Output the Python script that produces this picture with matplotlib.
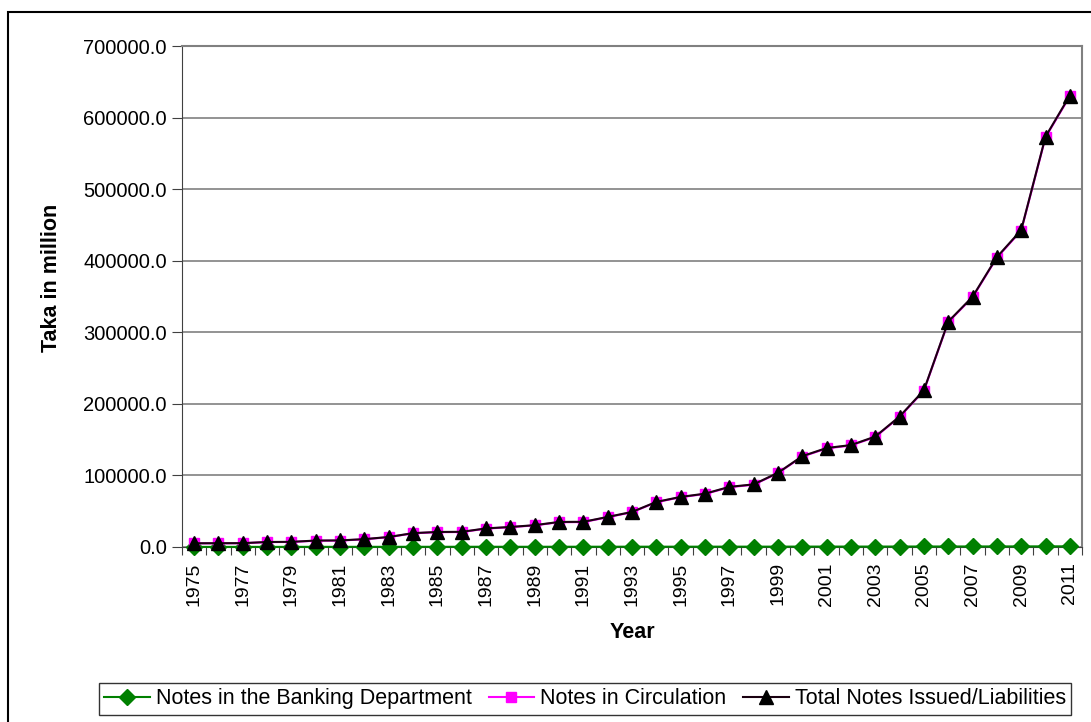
import numpy as np
import matplotlib.pyplot as plt
from matplotlib.patches import Rectangle
from matplotlib.ticker import FormatStrFormatter

plt.rcParams['font.family'] = ['Liberation Sans', 'DejaVu Sans']

years = list(range(1975, 2012))

# Total notes issued / liabilities (Taka in million)
total_notes = [5200, 5300, 5400, 7000, 7200, 9000, 9200, 11000, 14000, 19400,
               21000, 21200, 26000, 28000, 30500, 35000, 35200, 42000, 49000, 63000,
               70000, 74500, 84000, 87500, 103700, 126900, 138300, 142400, 154300, 182300,
               219000, 314900, 349600, 405000, 442800, 573300, 630800]

# Notes held in the Banking Department (very small, near zero)
banking_dept = [120, 150, 180, 160, 200, 220, 250, 240, 260, 300,
                280, 320, 350, 300, 330, 360, 380, 400, 420, 450,
                430, 470, 500, 480, 520, 560, 600, 580, 620, 650,
                700, 720, 760, 800, 850, 900, 950]

circulation = [t - b for t, b in zip(total_notes, banking_dept)]

W, H = 1091, 722
fig = plt.figure(figsize=(W / 100, H / 100), dpi=100)
ax = fig.add_axes([182 / W, 1 - 547 / H, (1082 - 182) / W, (547 - 46) / H])

x = np.arange(len(years))
l1, = ax.plot(x, banking_dept, color='#008000', marker='D', markersize=8,
              markerfacecolor='#008000', markeredgecolor='#008000', lw=1.5,
              zorder=3, clip_on=False)
l2, = ax.plot(x, circulation, color='#ff00ff', marker='s', markersize=6.5,
              markerfacecolor='#ff00ff', markeredgecolor='#ff00ff', lw=1.5,
              zorder=4, clip_on=False)
l3, = ax.plot(x, total_notes, color='#1a0010', marker='^', markersize=10.5,
              markerfacecolor='black', markeredgecolor='black', lw=1.5,
              zorder=5, clip_on=False)

ax.set_xlim(-0.5, len(years) - 0.5)
ax.set_ylim(0, 700000)
ax.set_yticks(np.arange(0, 700001, 100000))
ax.yaxis.set_major_formatter(FormatStrFormatter('%.1f'))
ax.grid(axis='y', color='#808080', lw=1.2)
ax.set_axisbelow(True)

# category boundaries as tick marks, labels on every other year
ax.set_xticks(np.arange(-0.5, len(years)), labels=[''] * (len(years) + 1))
ax.set_xticks(x[::2], labels=[str(y) for y in years[::2]], minor=True)
ax.tick_params(axis='x', which='major', direction='out', length=6, color='#404040')
ax.tick_params(axis='x', which='minor', length=0, rotation=90, labelsize=14, pad=11)
ax.tick_params(axis='y', direction='out', length=7, color='#404040', labelsize=14.5,
               pad=4)

for side in ['top', 'right']:
    ax.spines[side].set_color('#808080')
    ax.spines[side].set_linewidth(1.5)
ax.spines['left'].set_color('#404040')
ax.spines['bottom'].set_color('#404040')

fig.text(52 / W, 1 - 278 / H, 'Taka in million', rotation=90, ha='center',
         va='center', fontsize=15.5, fontweight='bold')
fig.text(632 / W, 1 - 633 / H, 'Year', ha='center', va='center',
         fontsize=15.5, fontweight='bold')

# outer chart border
fig.patches.append(Rectangle((8 / W, -0.1), 1.2, 1 - 12 / H + 0.1,
                             transform=fig.transFigure, fill=False,
                             edgecolor='black', lw=1.5))

leg = fig.legend([l1, l2, l3],
                 ['Notes in the Banking Department', 'Notes in Circulation',
                  'Total Notes Issued/Liabilities'],
                 loc='upper left', bbox_to_anchor=(99 / W, 1 - 683 / H),
                 ncol=3, fontsize=15.5, frameon=True, fancybox=False,
                 edgecolor='black', borderpad=0.25, borderaxespad=0,
                 handlelength=2.1, handletextpad=0.28, columnspacing=0.8)
leg.get_frame().set_linewidth(1.0)

fig.savefig('out.png', dpi=100)
